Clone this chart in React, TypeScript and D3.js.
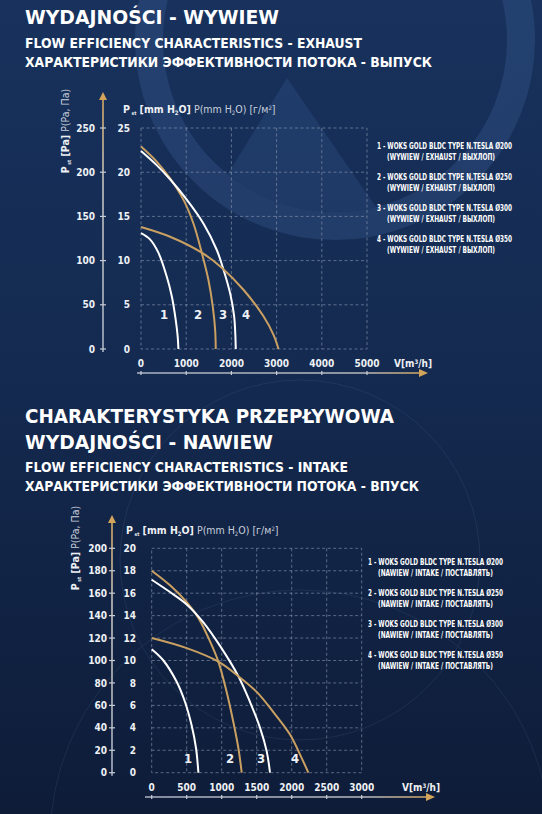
import * as d3 from "d3";

// ---- data (flow m3/h, static pressure Pa) ----
const fanSizes = ["Ø200", "Ø250", "Ø300", "Ø350"];
const curveColors = ["#ffffff", "#c9a061", "#ffffff", "#c9a061"];

const exhaustFlowTicks = [0, 1000, 2000, 3000, 4000, 5000];
const exhaustPaTicks = [0, 50, 100, 150, 200, 250];
const exhaustMmTicks = [0, 5, 10, 15, 20, 25];

const exhaust200: [number, number][] = [[0, 131], [199, 124], [384, 109], [569, 82], [680, 60], [768, 33], [812, 14], [827, 0]];
const exhaust250: [number, number][] = [[0, 229], [347, 212], [643, 193], [938, 169], [1160, 142], [1344, 109], [1492, 78], [1588, 48], [1640, 22], [1654, 0]];
const exhaust300: [number, number][] = [[0, 224], [347, 208], [643, 192], [1012, 169], [1381, 142], [1677, 112], [1824, 90], [1972, 63], [2061, 37], [2097, 0]];
const exhaust350: [number, number][] = [[0, 138], [643, 127], [1344, 109], [1787, 92], [2267, 67], [2710, 37], [2932, 16], [3043, 0]];

const intakeFlowTicks = [0, 500, 1000, 1500, 2000, 2500, 3000];
const intakePaTicks = [0, 20, 40, 60, 80, 100, 120, 140, 160, 180, 200];
const intakeMmTicks = [0, 2, 4, 6, 8, 10, 12, 14, 16, 18, 20];

const intake200: [number, number][] = [[0, 110], [167, 100], [357, 81], [476, 63], [571, 42], [633, 22], [667, 0]];
const intake250: [number, number][] = [[0, 180], [262, 167], [500, 152], [667, 138], [833, 117], [952, 99], [1071, 72], [1167, 45], [1238, 22], [1286, 0]];
const intake300: [number, number][] = [[0, 172], [262, 161], [500, 150], [738, 134], [976, 113], [1238, 86], [1405, 63], [1548, 40], [1643, 19], [1690, 0]];
const intake350: [number, number][] = [[0, 120], [500, 111], [952, 99], [1238, 86], [1500, 72], [1738, 54], [1976, 34], [2143, 13], [2238, 0]];

const FONT_HEAD = "'DejaVu Sans', Lato, sans-serif";
const FONT_COND = "'Liberation Sans Narrow', 'DejaVu Sans Condensed', Roboto, sans-serif";
const TEXT = "#eef1f5";
const GOLD = "#d4a45a";

type Layout = {
  left: number; right: number; top: number; bottom: number;
  paAxisX: number; paLabelX: number; mmLabelX: number; arrowTop: number;
  xLabelY: number; xAxisY: number; xAxisStart: number; xAxisEnd: number;
  vLabelX: number; titleX: number; titleY: number; rotX: number; rotY: number;
  legendX: number; legendY: number; legendStep: number; legendW2: number;
  curveLabelQ: number[]; curveLabelPa: number;
};

type ChartProps = {
  id: string;
  layout: Layout;
  flowTicks: number[];
  paTicks: number[];
  mmTicks: number[];
  series: [number, number][][];
  mode: string;
};

const SX = 0.72; // horizontal squeeze for the condensed legend font

const Chart = ({ id, layout: L, flowTicks, paTicks, mmTicks, series, mode }: ChartProps) => {
  const x = d3.scaleLinear()
    .domain([0, d3.max(flowTicks) as number])
    .range([L.left, L.right]);
  const y = d3.scaleLinear()
    .domain([0, d3.max(paTicks) as number])
    .range([L.bottom, L.top]);

  const line = d3.line<[number, number]>()
    .x(d => x(d[0]))
    .y(d => y(d[1]))
    .curve(d3.curveCatmullRom.alpha(0.5));

  const grid = { stroke: "#8d9bb3", strokeOpacity: 0.75, strokeWidth: 0.8, strokeDasharray: "3,2.5" };

  return (
    <g>
      <defs>
        <linearGradient id={`${id}-vgrad`} gradientUnits="userSpaceOnUse" x1={0} y1={L.bottom} x2={0} y2={L.arrowTop}>
          <stop offset="0" stopColor="#aab3c3" />
          <stop offset="0.65" stopColor="#c4c3bf" />
          <stop offset="1" stopColor={GOLD} />
        </linearGradient>
        <linearGradient id={`${id}-hgrad`} gradientUnits="userSpaceOnUse" x1={L.xAxisStart} y1={0} x2={L.xAxisEnd} y2={0}>
          <stop offset="0" stopColor="#aab3c3" />
          <stop offset="0.78" stopColor="#b8b9bc" />
          <stop offset="1" stopColor={GOLD} />
        </linearGradient>
      </defs>

      {/* grid */}
      <rect x={L.left} y={L.top} width={L.right - L.left} height={L.bottom - L.top} fill="none" {...grid} />
      {flowTicks.slice(1, -1).map(t => (
        <line key={`gx${t}`} x1={x(t)} x2={x(t)} y1={L.top} y2={L.bottom} {...grid} />
      ))}
      {paTicks.slice(1, -1).map(t => (
        <line key={`gy${t}`} x1={L.left} x2={L.right} y1={y(t)} y2={y(t)} {...grid} />
      ))}

      {/* Pa axis */}
      <line x1={L.paAxisX} x2={L.paAxisX} y1={L.bottom + 3} y2={L.arrowTop + 6}
        stroke={`url(#${id}-vgrad)`} strokeWidth={1.6} />
      <path d={`M${L.paAxisX - 4},${L.arrowTop + 8} L${L.paAxisX},${L.arrowTop} L${L.paAxisX + 4},${L.arrowTop + 8} Z`} fill={GOLD} />
      {paTicks.map(t => (
        <line key={`pt${t}`} x1={L.paAxisX - 3} x2={L.paAxisX + 3} y1={y(t)} y2={y(t)}
          stroke="#c8cdd6" strokeWidth={1.2} />
      ))}
      {paTicks.map(t => (
        <text key={`pl${t}`} x={L.paLabelX} y={y(t) + 3.6} textAnchor="end"
          fontFamily={FONT_COND} fontWeight="bold" fontSize={10} fill={TEXT}>{t}</text>
      ))}
      {mmTicks.map(t => (
        <text key={`ml${t}`} x={L.mmLabelX} y={y(t * 10) + 3.6} textAnchor="end"
          fontFamily={FONT_COND} fontWeight="bold" fontSize={10} fill={TEXT}>{t}</text>
      ))}

      {/* rotated Pa title */}
      <text transform={`translate(${L.rotX},${L.rotY}) rotate(-90)`} textAnchor="middle"
        fontFamily={FONT_COND} fontSize={10.5} fill={TEXT}>
        <tspan fontWeight="bold">P</tspan>
        <tspan fontWeight="bold" fontSize={5} dy={2}> st</tspan>
        <tspan fontWeight="bold" dy={-2}> [Pa]</tspan>
        <tspan fill="#c9d0dc"> P(Pa, Па)</tspan>
      </text>

      {/* mm title */}
      <text x={L.titleX} y={L.titleY} fontFamily={FONT_COND} fontSize={10.5} fill={TEXT}>
        <tspan fontWeight="bold">P</tspan>
        <tspan fontWeight="bold" fontSize={5} dy={2}> st</tspan>
        <tspan fontWeight="bold" dy={-2}> [mm H</tspan>
        <tspan fontWeight="bold" fontSize={6} dy={2}>2</tspan>
        <tspan fontWeight="bold" dy={-2}>O]</tspan>
        <tspan fill="#c9d0dc"> P(mm H</tspan>
        <tspan fill="#c9d0dc" fontSize={6} dy={2}>2</tspan>
        <tspan fill="#c9d0dc" dy={-2}>O) [г/м</tspan>
        <tspan fill="#c9d0dc" fontSize={6} dy={-3}>2</tspan>
        <tspan fill="#c9d0dc" dy={3}>]</tspan>
      </text>

      {/* flow axis */}
      <line x1={L.xAxisStart} x2={L.xAxisEnd - 6} y1={L.xAxisY} y2={L.xAxisY}
        stroke={`url(#${id}-hgrad)`} strokeWidth={1.6} />
      <path d={`M${L.xAxisEnd - 9},${L.xAxisY - 4} L${L.xAxisEnd},${L.xAxisY} L${L.xAxisEnd - 9},${L.xAxisY + 4} Z`} fill={GOLD} />
      {flowTicks.map(t => (
        <line key={`xt${t}`} x1={x(t)} x2={x(t)} y1={L.xAxisY - 2} y2={L.xAxisY + 2}
          stroke="#c8cdd6" strokeWidth={1.2} />
      ))}
      {flowTicks.map(t => (
        <text key={`xl${t}`} x={x(t)} y={L.xLabelY} textAnchor="middle"
          fontFamily={FONT_COND} fontWeight="bold" fontSize={10} fill={TEXT}>{t}</text>
      ))}
      <text x={L.vLabelX} y={L.xLabelY} fontFamily={FONT_COND} fontWeight="bold" fontSize={10} fill={TEXT}>
        V[m<tspan fontSize={6} dy={-3}>3</tspan><tspan dy={3}>/h]</tspan>
      </text>

      {/* curves */}
      {series.map((s, i) => (
        <path key={`c${i}`} d={line(s) as string} fill="none" stroke={curveColors[i]} strokeWidth={2} />
      ))}
      {L.curveLabelQ.map((q, i) => (
        <text key={`cl${i}`} x={x(q)} y={y(L.curveLabelPa) + 5} textAnchor="middle"
          fontFamily={FONT_COND} fontWeight="bold" fontSize={13} fill={TEXT}>{i + 1}</text>
      ))}

      {/* legend */}
      {fanSizes.map((s, i) => (
        <g key={`lg${i}`} fontFamily={FONT_COND} fontWeight="bold" fontSize={9.5} fill="#ffffff">
          <g transform={`translate(${L.legendX},${L.legendY + i * L.legendStep}) scale(${SX},1)`}>
            <text x={0} y={0} textLength={135 / SX} lengthAdjust="spacingAndGlyphs">
              {`${i + 1} - WOKS GOLD BLDC TYPE N.TESLA ${s}`}
            </text>
          </g>
          <g transform={`translate(${L.legendX + 10},${L.legendY + i * L.legendStep + 11}) scale(${SX},1)`}>
            <text x={0} y={0} textLength={L.legendW2 / SX} lengthAdjust="spacingAndGlyphs">
              {mode}
            </text>
          </g>
        </g>
      ))}
    </g>
  );
};

const exhaustLayout: Layout = {
  left: 141, right: 367, top: 128, bottom: 349,
  paAxisX: 103, paLabelX: 95, mmLabelX: 130, arrowTop: 92,
  xLabelY: 367, xAxisY: 373, xAxisStart: 137, xAxisEnd: 428,
  vLabelX: 394, titleX: 123, titleY: 113, rotX: 69, rotY: 131,
  legendX: 377, legendY: 148.5, legendStep: 31, legendW2: 108,
  curveLabelQ: [509, 1261, 1814, 2323], curveLabelPa: 40,
};

const intakeLayout: Layout = {
  left: 151.7, right: 361.7, top: 548.3, bottom: 772.7,
  paAxisX: 112, paLabelX: 107, mmLabelX: 136, arrowTop: 515,
  xLabelY: 791, xAxisY: 797, xAxisStart: 145, xAxisEnd: 435,
  vLabelX: 402, titleX: 126, titleY: 534, rotX: 79, rotY: 548,
  legendX: 368, legendY: 564.5, legendStep: 31, legendW2: 115,
  curveLabelQ: [519, 1119, 1561, 2047], curveLabelPa: 13,
};

const Heading = ({ x, y, size, w, children }: { x: number; y: number; size: number; w: number; children: string }) => (
  <text x={x} y={y} fontFamily={FONT_HEAD} fontWeight="bold" fontSize={size} fill="#ffffff"
    textLength={w} lengthAdjust="spacingAndGlyphs">{children}</text>
);

export default function App() {
  return (
    <svg width={542} height={814} style={{ position: "absolute", left: 0, top: 0, display: "block" }}>
      <defs>
        <linearGradient id="bg" x1="0" y1="0" x2="0" y2="1">
          <stop offset="0" stopColor="#18325d" />
          <stop offset="0.45" stopColor="#142a50" />
          <stop offset="1" stopColor="#0e1c38" />
        </linearGradient>
        <clipPath id="logoClip">
          <circle cx={335} cy={40} r={172} />
        </clipPath>
      </defs>
      <rect width={542} height={814} fill="url(#bg)" />

      {/* faint logo watermark */}
      <g opacity={0.22}>
        <circle cx={335} cy={40} r={186} fill="none" stroke="#4d75b3" strokeWidth={28} />
        <path d="M287,78 L150,300 L440,300 Z" fill="#3f66a3" clipPath="url(#logoClip)" />
      </g>
      <g opacity={0.12} fill="none" stroke="#7c98c6" strokeWidth={1}>
        <circle cx={300} cy={840} r={250} />
        <circle cx={300} cy={560} r={180} />
      </g>

      <Heading x={25} y={23.5} size={20} w={254}>WYDAJNOŚCI - WYWIEW</Heading>
      <Heading x={25} y={47.5} size={13.5} w={337}>FLOW EFFICIENCY CHARACTERISTICS - EXHAUST</Heading>
      <Heading x={25} y={66.5} size={13.5} w={407}>ХАРАКТЕРИСТИКИ ЭФФЕКТИВНОСТИ ПОТОКА - ВЫПУСК</Heading>

      <Heading x={25} y={422.5} size={20} w={369}>CHARAKTERYSTYKA PRZEPŁYWOWA</Heading>
      <Heading x={25} y={448.5} size={20} w={248}>WYDAJNOŚCI - NAWIEW</Heading>
      <Heading x={25} y={471.5} size={13.5} w={323}>FLOW EFFICIENCY CHARACTERISTICS - INTAKE</Heading>
      <Heading x={25} y={490.5} size={13.5} w={394}>ХАРАКТЕРИСТИКИ ЭФФЕКТИВНОСТИ ПОТОКА - ВПУСК</Heading>

      <Chart id="ex" layout={exhaustLayout}
        flowTicks={exhaustFlowTicks} paTicks={exhaustPaTicks} mmTicks={exhaustMmTicks}
        series={[exhaust200, exhaust250, exhaust300, exhaust350]}
        mode="(WYWIEW / EXHAUST / ВЫХЛОП)" />
      <Chart id="in" layout={intakeLayout}
        flowTicks={intakeFlowTicks} paTicks={intakePaTicks} mmTicks={intakeMmTicks}
        series={[intake200, intake250, intake300, intake350]}
        mode="(NAWIEW / INTAKE / ПОСТАВЛЯТЬ)" />
    </svg>
  );
}
